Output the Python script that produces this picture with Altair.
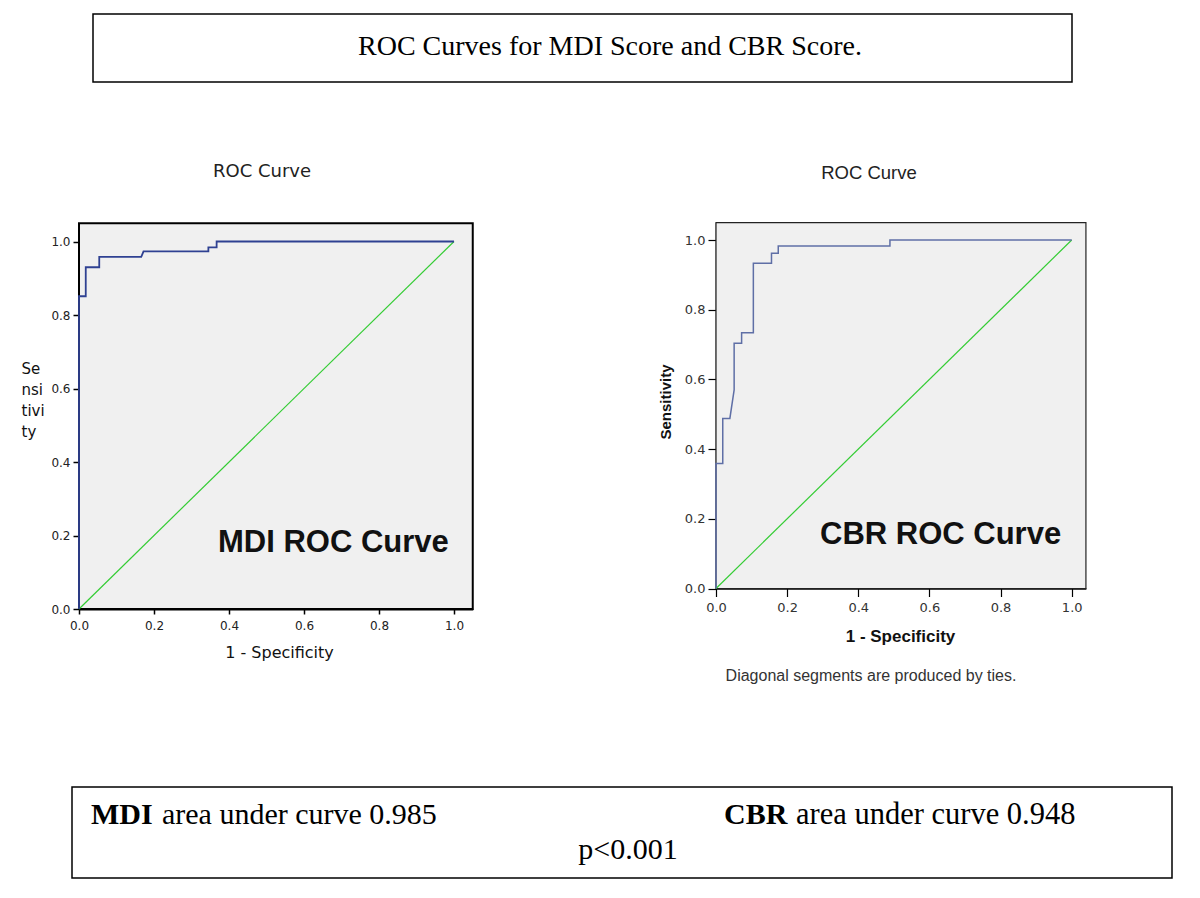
import altair as alt
import pandas as pd

# ---------------- data ----------------
mdi_fpr = [0.0, 0.0, 0.018, 0.018, 0.054, 0.054, 0.166, 0.172, 0.345, 0.345, 0.367, 0.367, 1.0]
mdi_tpr = [0.0, 0.851, 0.851, 0.930, 0.930, 0.958, 0.958, 0.973, 0.973, 0.984, 0.984, 1.0, 1.0]

cbr_fpr = [0.0, 0.0, 0.019, 0.019, 0.039, 0.051, 0.051, 0.072, 0.072, 0.105, 0.105,
           0.156, 0.156, 0.175, 0.175, 0.489, 0.489, 1.0]
cbr_tpr = [0.0, 0.359, 0.359, 0.488, 0.488, 0.570, 0.704, 0.704, 0.734, 0.734, 0.933,
           0.933, 0.962, 0.962, 0.983, 0.983, 1.0, 1.0]

ref_fpr = [0.0, 1.0]
ref_tpr = [0.0, 1.0]

tick_values = [0.0, 0.2, 0.4, 0.6, 0.8, 1.0]

main_title = "ROC Curves for MDI Score and CBR Score."
panel_title = "ROC Curve"
x_title = "1 - Specificity"
left_y_title = ["Se", "nsi", "tivi", "ty"]
right_y_title = "Sensitivity"
mdi_label = "MDI ROC Curve"
cbr_label = "CBR ROC Curve"
ties_note = "Diagonal segments are produced by ties."
auc_names = ["MDI", "CBR"]
auc_texts = ["area under curve 0.985", "area under curve 0.948"]
p_text = "p<0.001"

# ---------------- layout (view pixels) ----------------
W, H = 1184, 882
L = dict(x0=71, xu=375.0, y0=601, yu=367.5, xmax=1.05, ymax=1.05)
R = dict(x0=708, xu=355.7, y0=580.5, yu=348.5, xmax=1.04, ymax=1.05)


def curve_df(fpr, tpr):
    return pd.DataFrame({"fpr": fpr, "tpr": tpr, "i": list(range(len(fpr)))})


def panel(fpr, tpr, g, xaxis, yaxis, color, width, frame_w, frame_c):
    xs = alt.Scale(domain=[0, g["xmax"]], range=[g["x0"], g["x0"] + g["xmax"] * g["xu"]],
                   nice=False, zero=False)
    ys = alt.Scale(domain=[0, g["ymax"]], range=[g["y0"], g["y0"] - g["ymax"] * g["yu"]],
                   nice=False, zero=False)

    def X(f):
        return alt.X(f, type="quantitative", scale=xs, axis=xaxis)

    def Y(f):
        return alt.Y(f, type="quantitative", scale=ys, axis=yaxis)

    frame_df = pd.DataFrame({"a0": [0.0], "a1": [g["xmax"]], "b0": [0.0], "b1": [g["ymax"]]})
    frame = alt.Chart(frame_df).mark_rect(
        fill="#f0f0f0", stroke=frame_c, strokeWidth=frame_w
    ).encode(x=X("a0"), x2=alt.X2("a1"), y=Y("b0"), y2=alt.Y2("b1"))
    ref = alt.Chart(curve_df(ref_fpr, ref_tpr)).mark_line(
        color="#33cc33", strokeWidth=1.2
    ).encode(x=X("fpr"), y=Y("tpr"), order="i:Q")
    roc = alt.Chart(curve_df(fpr, tpr)).mark_line(
        color=color, strokeWidth=width, interpolate="linear"
    ).encode(x=X("fpr"), y=Y("tpr"), order="i:Q")
    return alt.layer(frame, ref, roc)


common = dict(values=tick_values, format=".1f", grid=False, labelFlush=False,
              labelOverlap=False, domainColor="black", tickColor="black")

left_x_axis = alt.Axis(orient="bottom", offset=L["y0"] - H, domainWidth=2, tickWidth=1.5,
                       tickSize=5, labelFont="DejaVu Sans", labelFontSize=12,
                       labelColor="#222222", labelPadding=6,
                       title=x_title, titleFont="DejaVu Sans", titleFontSize=16,
                       titleFontWeight="normal", titleColor="#111111",
                       titleX=271, titleY=48, titleAlign="center",
                       titleBaseline="alphabetic", **common)
left_y_axis = alt.Axis(orient="left", offset=-L["x0"], domainWidth=2, tickWidth=1.5,
                       tickSize=6, labelFont="DejaVu Sans", labelFontSize=12,
                       labelColor="#222222", labelPadding=3,
                       title=left_y_title, titleFont="DejaVu Sans", titleFontSize=15,
                       titleFontWeight="normal", titleColor="#111111", titleAngle=0,
                       titleAlign="left", titleBaseline="alphabetic", titleLineHeight=21,
                       titleX=-58, titleY=365, **common)

right_x_axis = alt.Axis(orient="bottom", offset=R["y0"] - H, domainWidth=1.5, tickWidth=1.2,
                        tickSize=8, labelFont="DejaVu Sans", labelFontSize=13,
                        labelColor="#333333", labelPadding=5,
                        title=x_title, titleFont="Liberation Sans", titleFontSize=17,
                        titleFontWeight="bold", titleColor="#111111",
                        titleX=892, titleY=53, titleAlign="center",
                        titleBaseline="alphabetic", **common)
right_y_axis = alt.Axis(orient="left", offset=-R["x0"], domainWidth=1.5, tickWidth=1.2,
                        tickSize=8, labelFont="DejaVu Sans", labelFontSize=13,
                        labelColor="#333333", labelPadding=3,
                        title=right_y_title, titleFont="Liberation Sans", titleFontSize=15,
                        titleFontWeight="bold", titleColor="#111111", titleAngle=270,
                        titleAlign="center", titleBaseline="middle",
                        titleX=-51, titleY=393.5, **common)

left_panel = panel(mdi_fpr, mdi_tpr, L, left_x_axis, left_y_axis, "#2f4192", 1.8, 2, "black")
right_panel = panel(cbr_fpr, cbr_tpr, R, right_x_axis, right_y_axis, "#5f6fa6", 1.5, 1.2, "#222222")


def label(text, x, y, size, font="Liberation Sans", weight="normal", align="left",
          baseline="alphabetic", color="black"):
    return alt.Chart(pd.DataFrame({"t": [text]})).mark_text(
        font=font, fontSize=size, fontWeight=weight, align=align, baseline=baseline,
        color=color
    ).encode(text="t:N", x=alt.value(x), y=alt.value(y))


def box(x1, y1, x2, y2, sw):
    return alt.Chart(pd.DataFrame({"a": [0]})).mark_rect(
        fill="white", fillOpacity=0, stroke="black", strokeWidth=sw
    ).encode(x=alt.value(x1), x2=alt.value(x2), y=alt.value(y1), y2=alt.value(y2))


deco = [
    box(85, 6, 1064, 74, 1.5),
    label(main_title, 602, 47, 28, font="Liberation Serif", align="center"),
    label(panel_title, 254, 169, 18, font="DejaVu Sans", align="center", color="#222222"),
    label(panel_title, 861, 171, 18.5, align="center", color="#222222"),
    label(mdi_label, 210, 544, 31, weight="bold", color="#111111"),
    label(cbr_label, 812, 536, 31, weight="bold", color="#111111"),
    label(ties_note, 863, 673, 16, align="center", color="#333333"),
    box(64, 779, 1164, 870, 1.5),
    label(auc_names[0], 83, 816, 30, font="Liberation Serif", weight="bold"),
    label(auc_texts[0], 154, 816, 30, font="Liberation Serif"),
    label(auc_names[1], 716, 816, 30, font="Liberation Serif", weight="bold"),
    label(auc_texts[1], 788, 816, 30.5, font="Liberation Serif"),
    label(p_text, 620, 851, 30, font="Liberation Serif", align="center"),
]

chart = alt.layer(left_panel, right_panel, *deco).resolve_scale(
    x="independent", y="independent"
).properties(
    width=W, height=H, autosize=alt.AutoSizeParams(type="none"), padding=0,
    background="white"
).configure_view(stroke=None)

chart.save("out.html", embed_options={"renderer": "svg", "actions": False})
